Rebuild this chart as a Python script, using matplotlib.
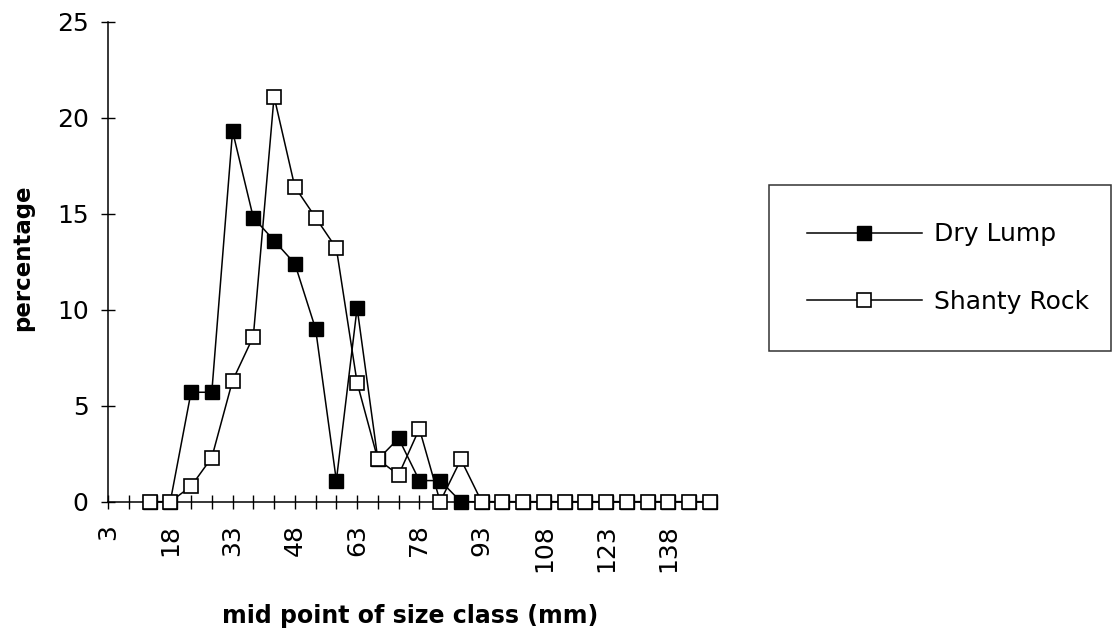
import matplotlib
matplotlib.use("Agg")
import matplotlib.pyplot as plt
import numpy as np

# size classes (mid point, mm) - category axis
size_class = [3, 8, 13, 18, 23, 28, 33, 38, 43, 48, 53, 58, 63, 68, 73,
              78, 83, 88, 93, 98, 103, 108, 113, 118, 123, 128, 133, 138, 143, 148]

# percentages (None = no point)
dry_lump = [None, None, 0, 0, 5.7, 5.7, 19.3, 14.8, 13.6, 12.4, 9.0, 1.1, 10.1, 2.2, 3.3,
            1.1, 1.1, 0, 0, 0, 0, 0, 0, 0, 0, 0, 0, 0, 0, 0]
shanty_rock = [None, None, 0, 0, 0.8, 2.3, 6.3, 8.6, 21.1, 16.4, 14.8, 13.2, 6.2, 2.2, 1.4,
               3.8, 0, 2.2, 0, 0, 0, 0, 0, 0, 0, 0, 0, 0, 0, 0]

y_ticks = [0, 5, 10, 15, 20, 25]

W, H = 1114, 634
fig = plt.figure(figsize=(W / 100, H / 100), dpi=100)
fig.patch.set_facecolor("white")

# axes placed to match the reference pixels
ax = fig.add_axes([108 / W, 1 - 501.7 / H, 602 / W, 480 / H])

idx = np.arange(len(size_class))
dl = np.array([np.nan if v is None else v for v in dry_lump])
sr = np.array([np.nan if v is None else v for v in shanty_rock])

ax.plot(idx, dl, color="black", lw=1.1, marker="s", markersize=10.5,
        markerfacecolor="black", markeredgecolor="black", markeredgewidth=1.0,
        label="Dry Lump", clip_on=False, zorder=3)
ax.plot(idx, sr, color="black", lw=1.1, marker="s", markersize=10.5,
        markerfacecolor="white", markeredgecolor="black", markeredgewidth=1.2,
        label="Shanty Rock", clip_on=False, zorder=4)

ax.set_xlim(0, len(size_class) - 1)
ax.set_ylim(0, 25)

# every category gets a tick, only every third one a label
ax.set_xticks(idx)
ax.set_xticklabels([str(s) if i % 3 == 0 else "" for i, s in enumerate(size_class)],
                   rotation=90, va="top", ha="center")
ax.set_yticks(y_ticks)
ax.set_yticklabels([str(v) for v in y_ticks])

ax.tick_params(axis="x", direction="inout", length=10, width=1, pad=11, labelsize=18)
ax.tick_params(axis="y", direction="inout", length=10, width=1, pad=9, labelsize=18)

for s in ["top", "right"]:
    ax.spines[s].set_visible(False)
for s in ["left", "bottom"]:
    ax.spines[s].set_linewidth(1.1)

fig.text(23 / W, 1 - 258 / H, "percentage", rotation=90, ha="center", va="center",
         fontsize=16.5, fontweight="bold")
fig.text(410 / W, 1 - 616 / H, "mid point of size class (mm)", ha="center", va="center",
         fontsize=17, fontweight="bold")

leg = ax.legend(loc="upper left",
                bbox_to_anchor=(769 / W, 1 - 343 / H, (1111 - 769) / W, (343 - 185) / H),
                bbox_transform=fig.transFigure, mode="expand", borderaxespad=0,
                fancybox=False, shadow=False, fontsize=18, handlelength=4.6,
                handletextpad=0.5, labelspacing=1.72, borderpad=1.5, frameon=True)
leg.get_frame().set_edgecolor("black")
leg.get_frame().set_linewidth(1.1)

plt.savefig("out.png", dpi=100, facecolor="white")
plt.close()
